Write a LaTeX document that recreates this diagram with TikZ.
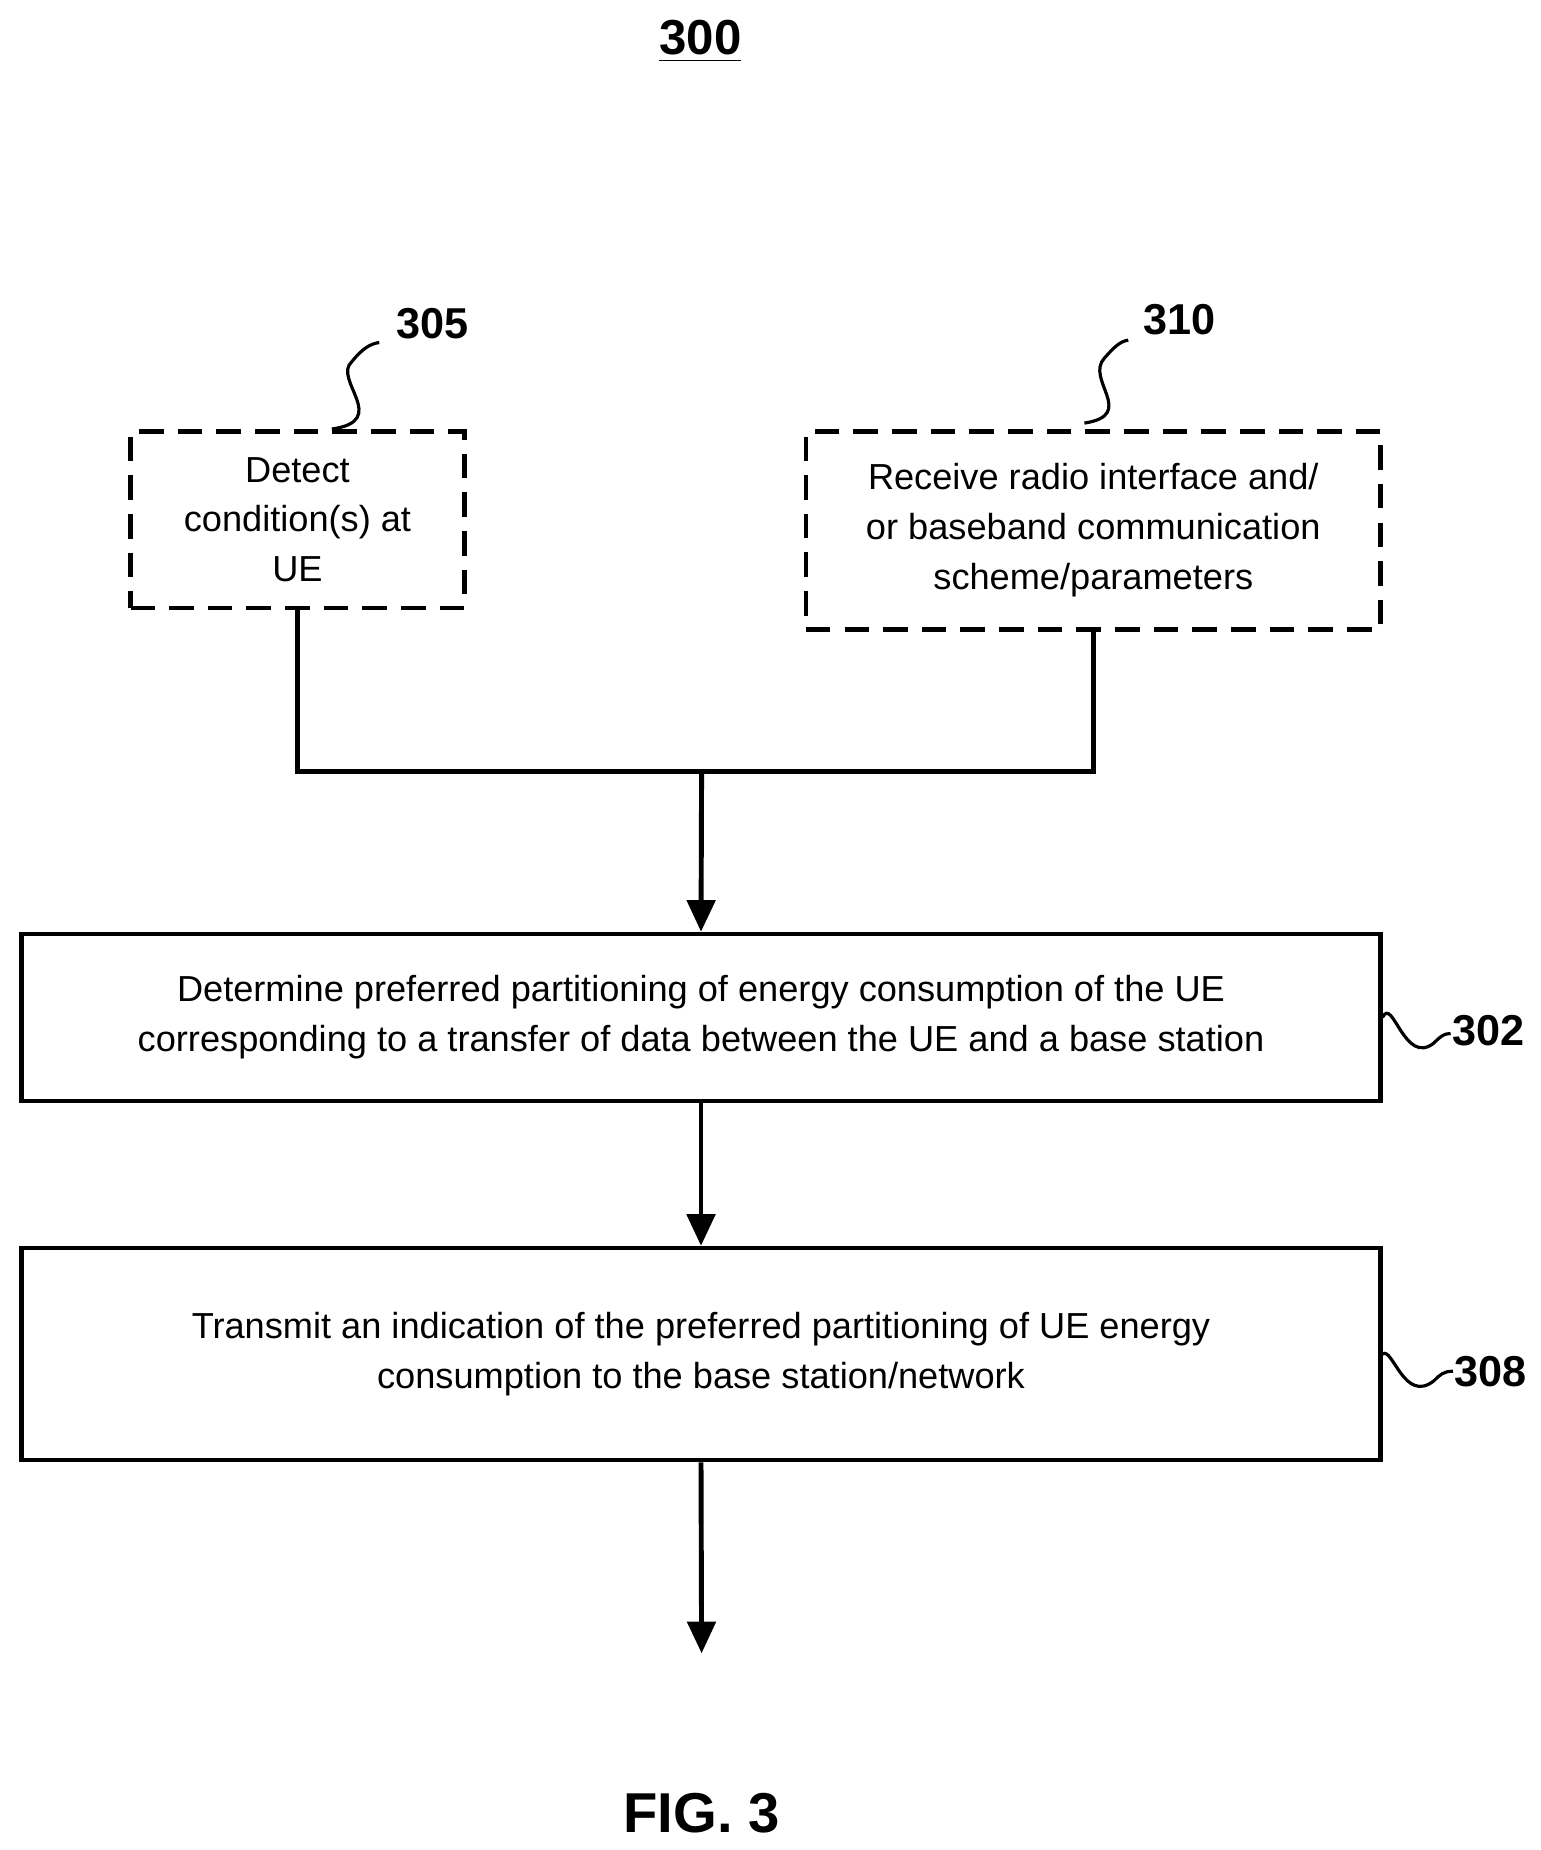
\documentclass[tikz,border=0pt]{standalone}
\usepackage{fontspec}
\setmainfont{Liberation Sans}
\usetikzlibrary{arrows.meta}
\tikzstyle{stepbox}=[draw, line width=1.3pt, align=center, inner sep=2pt, font=\fontsize{10.3}{14.2}\selectfont]
\tikzset{optional/.style={stepbox, dash pattern=on 7pt off 4pt}}
\tikzset{flow/.style={line width=1.4pt, -{Triangle[length=9pt,width=8pt]}}}
\tikzstyle{ref}=[font=\fontsize{12.3}{14}\selectfont\bfseries]
\tikzstyle{squig}=[line width=0.9pt]

\begin{document}
\begin{tikzpicture}[x=0.01185cm,y=-0.01185cm]
  \useasboundingbox (0,0) rectangle (1300,1561);
  \node[font=\fontsize{14}{16}\selectfont\bfseries] (title) at (591,35) {\underline{300}};

  \node[optional,minimum width=3.34cm,minimum height=1.77cm] (detect) at (251,438.5) {Detect\\condition(s) at\\UE};
  \node[optional,minimum width=5.75cm,minimum height=1.98cm] (receive) at (922.5,447.5) {Receive radio interface and/\\or baseband communication\\scheme/parameters};
  \node[stepbox,minimum width=13.59cm,minimum height=1.67cm] (determine) at (591.5,858.5) {Determine preferred partitioning of energy consumption of the UE\\corresponding to a transfer of data between the UE and a base station};
  \node[stepbox,minimum width=13.59cm,minimum height=2.12cm] (transmit) at (591.5,1142.5) {Transmit an indication of the preferred partitioning of UE energy\\consumption to the base station/network};

  %% Reference numerals
  \node[ref] (n305) at (365,273) {305};
  \node[ref] (n310) at (995,270) {310};
  \node[ref] (n302) at (1256,870) {302};
  \node[ref] (n308) at (1258,1157) {308};
  \draw[squig] (280,362) .. controls (330,355) and (280,320) .. (297,305) .. controls (305,295) and (312,290) .. (320,289);
  \draw[squig] (915,357) .. controls (960,350) and (915,320) .. (932,302) .. controls (940,293) and (945,288) .. (952,287);
  \draw[squig] (determine.east) .. controls (1175,840) and (1185,900) .. (1210,880) .. controls (1215,875) and (1218,872) .. (1224,872);
  \draw[squig] (transmit.east) .. controls (1175,1136) and (1185,1185) .. (1210,1165) .. controls (1215,1160) and (1218,1157) .. (1226,1157);

  %% Connectors
  \coordinate (join) at (592,651);
  \draw[line width=1.4pt] (detect.south) |- (join) -| (receive.south);
  \draw[flow] (join) -- (determine.north);
  \draw[flow] (determine.south) -- (transmit.north);
  \coordinate (out) at (592,1395);
  \draw[flow] (transmit.south) -- (out);

  \node[font=\fontsize{16}{18}\selectfont\bfseries] (fig) at (592,1530) {FIG. 3};
\end{tikzpicture}
\end{document}
